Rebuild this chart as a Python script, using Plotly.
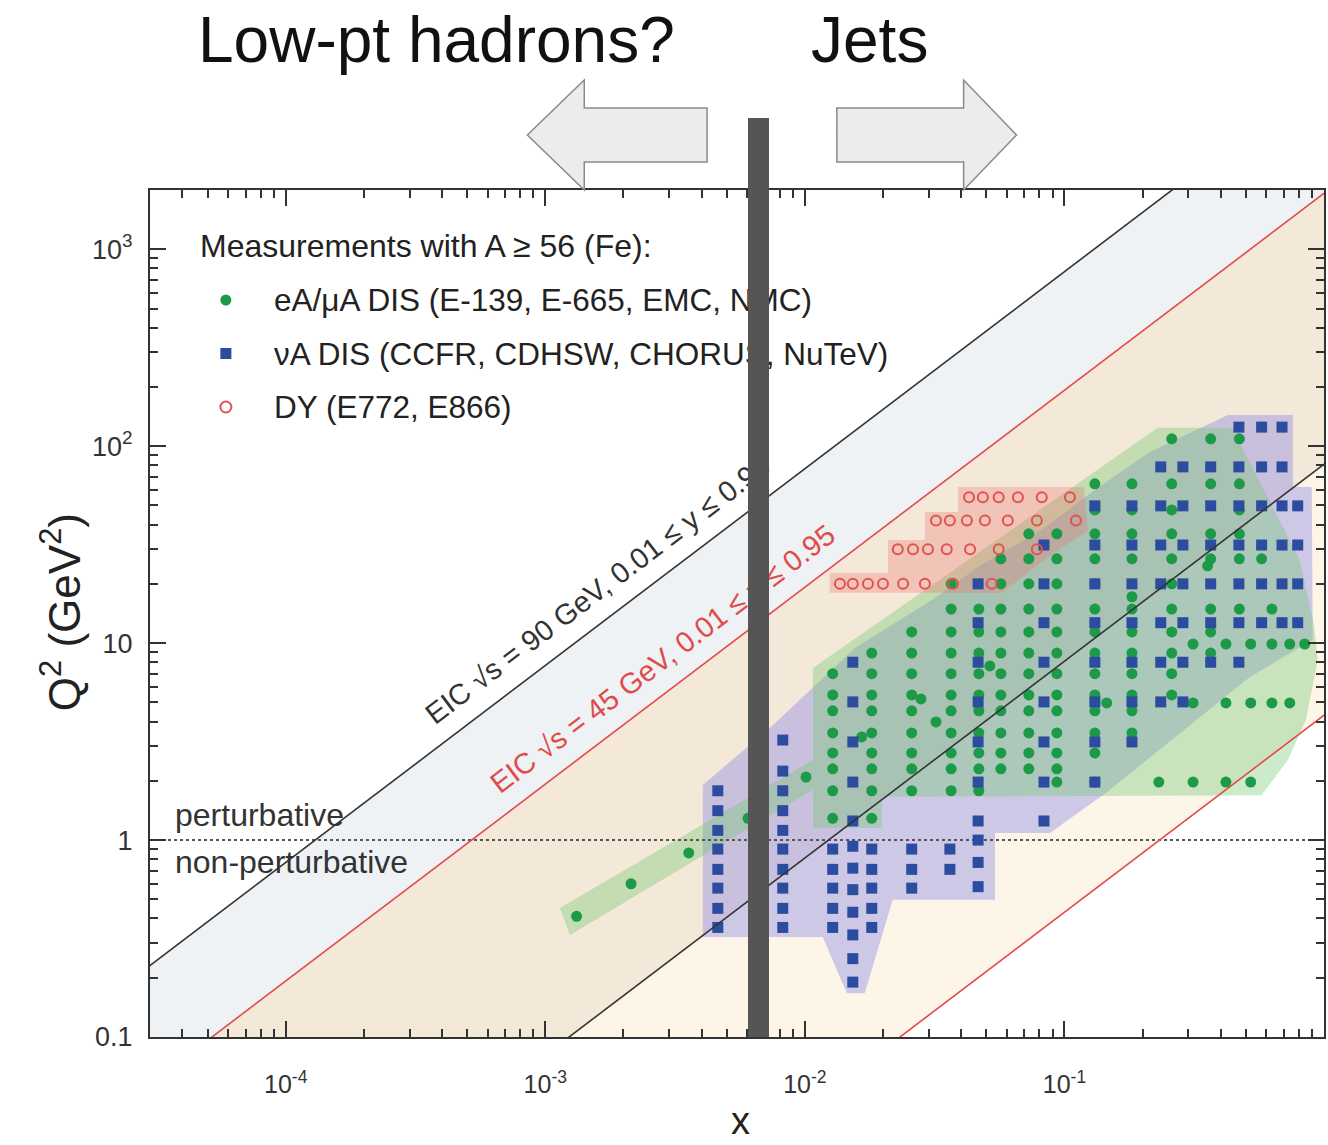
import math
import plotly.graph_objects as go

FONT = "Liberation Sans, Arial, Helvetica, sans-serif"

# ---------------- canvas ----------------
W, H = 1328, 1145
M_L, M_R, M_T, M_B = 150, 2, 190, 108

# ---------------- axis limits ----------------
X_RANGE = (3e-5, 1.0)
Q2_RANGE = (0.1, 2000.0)

# ---------------- kinematic limits, Q^2 = c * x ----------------
EIC90_YMAX = 0.95 * 90.0 ** 2      # EIC sqrt(s) = 90 GeV, y = 0.95
EIC90_YMIN = 0.01 * 90.0 ** 2      # EIC sqrt(s) = 90 GeV, y = 0.01
EIC45_YMAX = 0.95 * 45.0 ** 2      # EIC sqrt(s) = 45 GeV, y = 0.95
LOW_EDGE = 4.3                     # lower red boundary
Q2_SPLIT = 1.0                     # perturbative / non-perturbative

# ---------------- eA / muA DIS (E-139, E-665, EMC, NMC) ----------------
ea_col_x = [0.0128, 0.0181, 0.0258, 0.0366, 0.0468, 0.0569, 0.0729,
            0.0935, 0.131, 0.182, 0.259, 0.366, 0.472]
ea_col_q2 = [
    [7.0, 5.46, 4.53, 3.50, 2.77, 2.30, 1.78, 1.29],
    [8.9, 7.0, 5.46, 4.53, 3.50, 2.77, 2.30, 1.78, 1.29],
    [11.4, 8.9, 7.0, 5.46, 4.53, 3.50, 2.77, 2.30, 1.78],
    [20.0, 14.9, 11.4, 8.9, 7.0, 5.46, 4.53, 3.50, 2.77, 2.30, 1.78],
    [14.9, 11.4, 8.9, 7.0, 5.46, 4.53, 3.50, 2.77, 2.30, 1.78],
    [26.8, 20.0, 14.9, 11.4, 8.9, 7.0, 5.46, 4.53, 3.50, 2.77, 2.30],
    [35.9, 26.8, 20.0, 14.9, 11.4, 8.9, 7.0, 5.46, 4.53, 3.50, 2.77, 2.30],
    [35.9, 26.8, 20.0, 14.9, 11.4, 8.9, 7.0, 5.46, 4.53, 3.50, 2.77, 2.30, 1.97],
    [64.4, 47.5, 35.9, 26.8, 20.0, 14.9, 11.4, 8.9, 7.0, 5.46, 4.53, 3.50, 2.77, 1.97],
    [64.4, 47.5, 35.9, 26.8, 17.2, 14.9, 11.4, 8.9, 7.0, 5.46, 4.53, 3.50],
    [109, 64.4, 47.5, 35.9, 26.8, 20.0, 14.9, 11.4, 8.9, 7.0, 5.46],
    [109, 64.4, 35.9, 26.8, 14.9, 11.4, 8.9],
    [109, 64.4, 47.5, 35.9, 26.8, 14.9],
]
ea_row_q2 = [9.9, 4.97, 1.97]
ea_row_x = [
    [0.313, 0.419, 0.522, 0.63, 0.738, 0.843],
    [0.1455, 0.313, 0.419, 0.522, 0.63, 0.738],
    [0.231, 0.313, 0.419, 0.522],
]
ea_extra_x = [0.00132, 0.00214, 0.00357, 0.00604, 0.0101, 0.01656, 0.028,
              0.032, 0.0516, 0.356, 0.575, 0.63]
ea_extra_q2 = [0.41, 0.60, 0.86, 1.29, 2.09, 3.34, 5.21,
               3.98, 7.66, 24.7, 26.8, 14.9]

# ---------------- nuA DIS (CCFR, CDHSW, CHORUS, NuTeV) ----------------
nu_col_x = [0.00462, 0.00822, 0.0128, 0.0153, 0.0181, 0.0258, 0.0362, 0.0465,
            0.0834, 0.131, 0.182, 0.235, 0.286, 0.366, 0.470, 0.575, 0.689, 0.792]
nu_col_q2 = [
    [1.78, 1.41, 1.12, 0.90, 0.71, 0.57, 0.45, 0.36],
    [3.22, 2.24, 1.78, 1.41, 1.12, 0.90, 0.71, 0.57, 0.45, 0.36],
    [0.90, 0.71, 0.57, 0.45, 0.36],
    [8.0, 5.03, 3.15, 1.97, 1.25, 0.93, 0.72, 0.56, 0.43, 0.33, 0.25, 0.19],
    [0.90, 0.71, 0.57, 0.45, 0.36],
    [0.90, 0.71, 0.57],
    [0.90, 0.71],
    [20.0, 12.7, 8.0, 5.03, 3.15, 1.97, 1.25, 1.0, 0.77, 0.58],
    [31.5, 20.0, 12.7, 8.0, 5.03, 3.15, 1.97, 1.25],
    [49.8, 31.5, 20.0, 12.7, 8.0, 5.03, 3.15, 1.97],
    [49.8, 31.5, 20.0, 12.7, 8.0, 5.03, 3.15],
    [78.5, 49.8, 31.5, 20.0, 12.7, 8.0, 5.03],
    [78.5, 49.8, 31.5, 20.0, 12.7, 8.0, 5.03],
    [78.5, 49.8, 31.5, 20.0, 12.7, 8.0],
    [125, 78.5, 49.8, 31.5, 20.0, 12.7, 8.0],
    [125, 78.5, 49.8, 31.5, 20.0, 12.7],
    [125, 78.5, 49.8, 31.5, 20.0, 12.7],
    [49.8, 31.5, 20.0, 12.7],
]

# ---------------- Drell-Yan (E772, E866) ----------------
dy_row_q2 = [55.0, 42.0, 30.0, 20.0]
dy_row_x = [
    [0.0429, 0.0485, 0.0558, 0.0662, 0.0818, 0.105],
    [0.0320, 0.0362, 0.0421, 0.0494, 0.0605, 0.0783, 0.1107],
    [0.0228, 0.0261, 0.0298, 0.0352, 0.0433, 0.0558, 0.0783],
    [0.01365, 0.0153, 0.0175, 0.0200, 0.0239, 0.0290, 0.0372, 0.0525],
]

# ---------------- coverage envelopes ----------------
ea_env_x = [0.01074, 0.229, 0.4416, 0.807, 0.914, 0.946, 0.851, 0.726, 0.575,
            0.0198, 0.0198, 0.01074, 0.01074, 0.001245, 0.001138, 0.01074]
ea_env_q2 = [7.48, 124, 124, 26.5, 12.4, 8.22, 4.07, 2.55, 1.69,
             1.66, 1.15, 1.15, 1.80, 0.33, 0.452, 2.55]
nu_env_x = [0.004046, 0.00733, 0.0156, 0.0323, 0.0472, 0.0841, 0.131, 0.213,
            0.4266, 0.759, 0.759, 0.897, 0.905, 0.518, 0.1456, 0.0879, 0.0540,
            0.0540, 0.0218, 0.0170, 0.01452, 0.01172, 0.004046]
nu_env_q2 = [1.905, 3.71, 9.46, 17.2, 24.7, 38.5, 60.0, 93.5,
             144, 144, 62.1, 62.1, 10.4, 6.73, 1.75, 1.087, 1.087,
             0.497, 0.497, 0.167, 0.167, 0.322, 0.322]
dy_env_x = [0.01247, 0.01247, 0.0209, 0.0209, 0.029, 0.029, 0.0389, 0.0389,
            0.1189, 0.1230, 0.0855, 0.0574]
dy_env_q2 = [18.0, 22.8, 22.8, 33.4, 33.4, 46.4, 46.4, 62.1,
             62.1, 37.2, 27.1, 18.0]

# ---------------- text ----------------
x_tick_vals = [1e-4, 1e-3, 1e-2, 1e-1, 1.0]
x_tick_text = ["10<sup>-4</sup>", "10<sup>-3</sup>", "10<sup>-2</sup>", "10<sup>-1</sup>", "1"]
y_tick_vals = [0.1, 1.0, 10.0, 100.0, 1000.0]
y_tick_text = ["0.1", "1", "10", "10<sup>2</sup>", "10<sup>3</sup>"]
legend_title = "Measurements with A \u2265 56 (Fe):"
legend_labels = ["eA/\u03bcA DIS (E-139, E-665, EMC, NMC)",
                 "\u03bdA DIS (CCFR, CDHSW, CHORUS, NuTeV)",
                 "DY (E772, E866)"]
label_eic90 = "EIC \u221as = 90 GeV, 0.01 \u2264 y \u2264 0.95"
label_eic45 = "EIC \u221as = 45 GeV, 0.01 \u2264 y \u2264 0.95"
cut_x = 0.0066   # position of the low-pt / jets divider

# ---------------- colours ----------------
GREEN = "#1c9a48"
BLUE = "#2c4ca0"
RED = "#e05252"
LINE_RED = "#e24a4a"
DARK = "#333333"


def expand_cols(xs, q2s):
    ox, oq = [], []
    for x, qs in zip(xs, q2s):
        ox += [x] * len(qs)
        oq += list(qs)
    return ox, oq


def expand_rows(q2s, xs):
    ox, oq = [], []
    for q, row in zip(q2s, xs):
        ox += list(row)
        oq += [q] * len(row)
    return ox, oq


# plot-area geometry
plot_w = W - M_L - M_R
plot_h = H - M_T - M_B
lx0, lx1 = math.log10(X_RANGE[0]), math.log10(X_RANGE[1])
ly0, ly1 = math.log10(Q2_RANGE[0]), math.log10(Q2_RANGE[1])
dec_x = plot_w / (lx1 - lx0)
dec_y = plot_h / (ly1 - ly0)
line_angle = math.degrees(math.atan(dec_y / dec_x))


def paper_xy(px, py):
    """figure pixel -> paper coordinates"""
    return (px - M_L) / plot_w, (H - M_B - py) / plot_h


fig = go.Figure()

# kinematic bands
XF = [1e-7, 10.0]


def band(c_hi, c_lo, color):
    fig.add_trace(go.Scatter(
        x=[XF[0], XF[1], XF[1], XF[0]],
        y=[c_hi * XF[0], c_hi * XF[1], c_lo * XF[1], c_lo * XF[0]],
        mode="lines", fill="toself", fillcolor=color,
        line=dict(width=0), hoverinfo="skip", showlegend=False))


band(EIC90_YMAX, EIC45_YMAX, "#eef2f4")
band(EIC45_YMAX, EIC90_YMIN, "#f4e8d8")
band(EIC90_YMIN, LOW_EDGE, "#fcf5e8")

# coverage envelopes
for ex, eq, col in [(nu_env_x, nu_env_q2, "rgba(130,125,225,0.38)"),
                    (ea_env_x, ea_env_q2, "rgba(110,200,110,0.36)"),
                    (dy_env_x, dy_env_q2, "rgba(240,110,105,0.30)")]:
    fig.add_trace(go.Scatter(
        x=ex + [ex[0]], y=eq + [eq[0]], mode="lines", fill="toself",
        fillcolor=col, line=dict(width=0), hoverinfo="skip", showlegend=False))

# perturbative boundary
fig.add_trace(go.Scatter(
    x=[X_RANGE[0], X_RANGE[1]], y=[Q2_SPLIT, Q2_SPLIT], mode="lines",
    line=dict(color="#555555", width=2, dash="dot"),
    hoverinfo="skip", showlegend=False))

# measurements
gx, gq = expand_cols(ea_col_x, ea_col_q2)
rx, rq = expand_rows(ea_row_q2, ea_row_x)
gx += rx + ea_extra_x
gq += rq + ea_extra_q2
fig.add_trace(go.Scatter(
    x=gx, y=gq, mode="markers", name=legend_labels[0],
    marker=dict(symbol="circle", size=11, color=GREEN, line=dict(width=0)),
    showlegend=False))

bx, bq = expand_cols(nu_col_x, nu_col_q2)
fig.add_trace(go.Scatter(
    x=bx, y=bq, mode="markers", name=legend_labels[1],
    marker=dict(symbol="square", size=11, color=BLUE, line=dict(width=0)),
    showlegend=False))

dx, dq = expand_rows(dy_row_q2, dy_row_x)
fig.add_trace(go.Scatter(
    x=dx, y=dq, mode="markers", name=legend_labels[2],
    marker=dict(symbol="circle-open", size=10, color=RED, line=dict(width=2, color=RED)),
    showlegend=False))

# EIC kinematic limits
for c, col in [(EIC90_YMAX, DARK), (EIC90_YMIN, DARK),
               (EIC45_YMAX, LINE_RED), (LOW_EDGE, LINE_RED)]:
    fig.add_trace(go.Scatter(
        x=XF, y=[c * XF[0], c * XF[1]], mode="lines",
        line=dict(color=col, width=1.6), hoverinfo="skip", showlegend=False))

# ---------------- axes ----------------
minor_x = [m * 10.0 ** e for e in range(-5, 0) for m in range(2, 10)
           if X_RANGE[0] < m * 10.0 ** e < X_RANGE[1]]
minor_y = [m * 10.0 ** e for e in range(-1, 4) for m in range(2, 10)
           if Q2_RANGE[0] < m * 10.0 ** e < Q2_RANGE[1]]

axis_common = dict(
    type="log", showgrid=False, zeroline=False, showline=True,
    linecolor=DARK, linewidth=2, mirror="allticks",
    ticks="inside", ticklen=16, tickwidth=1.5, tickcolor=DARK,
    tickmode="array",
)
fig.update_xaxes(
    range=[lx0, lx1], tickvals=x_tick_vals, ticktext=x_tick_text,
    tickfont=dict(family=FONT, size=25, color=DARK), ticklabelstandoff=24,
    minor=dict(tickmode="array", tickvals=minor_x, ticks="inside", ticklen=8,
               tickwidth=1.5, tickcolor=DARK, showgrid=False),
    **axis_common)
fig.update_yaxes(
    range=[ly0, ly1], tickvals=y_tick_vals, ticktext=y_tick_text,
    tickfont=dict(family=FONT, size=27, color=DARK), ticklabelstandoff=10,
    minor=dict(tickmode="array", tickvals=minor_y, ticks="inside", ticklen=8,
               tickwidth=1.5, tickcolor=DARK, showgrid=False),
    **axis_common)

# ---------------- annotations ----------------
ann = []


def text_at(px, py, text, size, color="#222222", xanchor="center", angle=0):
    xp, yp = paper_xy(px, py)
    ann.append(dict(xref="paper", yref="paper", x=xp, y=yp, text=text,
                    showarrow=False, xanchor=xanchor, yanchor="middle",
                    textangle=angle,
                    font=dict(family=FONT, size=size, color=color)))


# headline labels
text_at(437, 40, "Low-pt hadrons?", 64, "#111111")
text_at(871, 40, "Jets", 64, "#111111")

# axis titles
text_at(60, 612, "Q<sup>2</sup> (GeV<sup>2</sup>)", 44, "#222222", angle=-90)
text_at(742, 1121, "x", 38, "#222222")

# legend
text_at(198, 246, legend_title, 32, "#222222", xanchor="left")
for i, lab in enumerate(legend_labels):
    text_at(272, 300 + 53.5 * i, lab, 31.5, "#222222", xanchor="left")

# regime labels
text_at(173, 815, "perturbative", 32, DARK, xanchor="left")
text_at(173, 862, "non-perturbative", 32, DARK, xanchor="left")

# labels along the EIC limits
d_off = 29.0
sa, ca = math.sin(math.radians(line_angle)), math.cos(math.radians(line_angle))
for xl, c, lab, col in [(0.00185, EIC90_YMAX, label_eic90, DARK),
                        (0.0033, EIC45_YMAX, label_eic45, LINE_RED)]:
    ann.append(dict(xref="x", yref="y", x=math.log10(xl), y=math.log10(c * xl),
                    text=lab, showarrow=False, textangle=-line_angle,
                    xanchor="center", yanchor="middle",
                    xshift=-d_off * sa, yshift=d_off * ca,
                    font=dict(family=FONT, size=29, color=col)))

# divider bar, drawn last so it sits above the labels
bar_top_px = 118
bar_xp = (math.log10(cut_x) - lx0) / (lx1 - lx0)
ann.append(dict(xref="paper", yref="paper", x=bar_xp, y=0, xanchor="center",
                yanchor="bottom", text="\u00a0", showarrow=False,
                width=21, height=(H - M_B) - bar_top_px, bgcolor="#555555",
                borderpad=0, borderwidth=0, font=dict(size=8, color="#555555")))

# ---------------- shapes: arrows and legend symbols ----------------
shapes = []


def path_from(points):
    parts = []
    for i, (px, py) in enumerate(points):
        xp, yp = paper_xy(px, py)
        parts.append(("M" if i == 0 else "L") + f"{xp:.5f},{yp:.5f}")
    return " ".join(parts) + " Z"


left_arrow = [(528, 135), (585, 80), (585, 108), (708, 108), (708, 162), (585, 162), (585, 190)]
right_arrow = [(838, 108), (965, 108), (965, 80), (1018, 135), (965, 190), (965, 162), (838, 162)]
for pts in (left_arrow, right_arrow):
    shapes.append(dict(type="path", xref="paper", yref="paper", path=path_from(pts),
                       fillcolor="#ececec", line=dict(color="#8a8a8a", width=1.5),
                       layer="above"))

sym_x = 226
for i, (kind, fill, lc, lw) in enumerate([("circle", GREEN, GREEN, 0),
                                          ("rect", BLUE, BLUE, 0),
                                          ("circle", "rgba(0,0,0,0)", RED, 2)]):
    xp, yp = paper_xy(sym_x, 300 + 53.5 * i)
    r = 5.5
    shapes.append(dict(type=kind, xref="paper", yref="paper",
                       xsizemode="pixel", ysizemode="pixel",
                       xanchor=xp, yanchor=yp, x0=-r, x1=r, y0=-r, y1=r,
                       fillcolor=fill, line=dict(color=lc, width=lw), layer="above"))

fig.update_layout(
    width=W, height=H,
    margin=dict(l=M_L, r=M_R, t=M_T, b=M_B, pad=0),
    paper_bgcolor="white", plot_bgcolor="white",
    showlegend=False, hovermode=False,
    font=dict(family=FONT, color="#222222"),
    annotations=ann, shapes=shapes,
)

fig.write_html("out.html")
